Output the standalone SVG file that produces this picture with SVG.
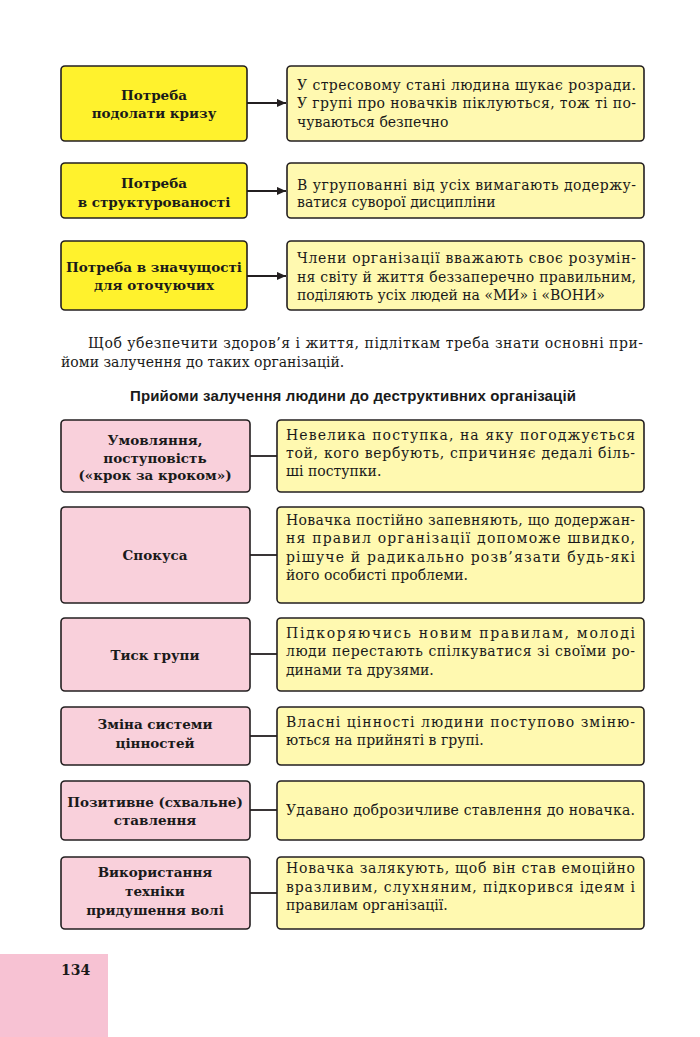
<svg xmlns="http://www.w3.org/2000/svg" width="700" height="1037" viewBox="0 0 700 1037">
<defs>
<style>
.bx{stroke:#231f20;stroke-width:1.6}
.y1{fill:#fff22d}
.y2{fill:#fff9b0}
.pk{fill:#f9d0db}
.lb{font-family:"DejaVu Serif","Liberation Serif",serif;font-weight:bold;font-size:13.5px;fill:#1a1a1a;text-anchor:middle}
.tx{font-family:"DejaVu Serif","Liberation Serif",serif;font-size:14px;fill:#1a1a1a}
.ttl{font-family:"Liberation Sans",Arial,sans-serif;font-weight:bold;font-size:15px;fill:#1a1a1a;text-anchor:middle}
.cn{stroke:#231f20;stroke-width:1.8;fill:none}
</style>
<marker id="ah" viewBox="0 0 10 10" refX="10" refY="5" markerWidth="9" markerHeight="9" markerUnits="userSpaceOnUse" orient="auto">
<path d="M0,0.5 L10,5 L0,9.5 Z" fill="#231f20"/>
</marker>
</defs>
<rect width="700" height="1037" fill="#ffffff"/>

<g id="connectors">
<line class="cn" x1="247" y1="103" x2="286" y2="103" marker-end="url(#ah)"/>
<line class="cn" x1="247" y1="191" x2="286" y2="191" marker-end="url(#ah)"/>
<line class="cn" x1="247" y1="276" x2="286" y2="276" marker-end="url(#ah)"/>
<line class="cn" x1="250" y1="456" x2="277" y2="456"/>
<line class="cn" x1="250" y1="555" x2="277" y2="555"/>
<line class="cn" x1="250" y1="654" x2="277" y2="654"/>
<line class="cn" x1="250" y1="736" x2="277" y2="736"/>
<line class="cn" x1="250" y1="810" x2="277" y2="810"/>
<line class="cn" x1="250" y1="893" x2="277" y2="893"/>
</g>

<g id="need1">
<rect class="bx y1" x="61" y="66" width="186" height="75" rx="4"/>
<text class="lb" x="154" y="100">Потреба</text>
<text class="lb" x="154" y="118">подолати кризу</text>
</g>
<g id="need1-desc">
<rect class="bx y2" x="287" y="66" width="357" height="75" rx="4"/>
<text class="tx" x="297" y="90" textLength="339" lengthAdjust="spacing">У стресовому стані людина шукає розради.</text>
<text class="tx" x="297" y="108" textLength="339" lengthAdjust="spacing">У групі про новачків піклуються, тож ті по-</text>
<text class="tx" x="297" y="127">чуваються безпечно</text>
</g>

<g id="need2">
<rect class="bx y1" x="61" y="163" width="186" height="55" rx="4"/>
<text class="lb" x="154" y="188">Потреба</text>
<text class="lb" x="154" y="207">в структурованості</text>
</g>
<g id="need2-desc">
<rect class="bx y2" x="287" y="163" width="357" height="55" rx="4"/>
<text class="tx" x="297" y="190" textLength="339" lengthAdjust="spacing">В угрупованні від усіх вимагають додержу-</text>
<text class="tx" x="297" y="207">ватися суворої дисципліни</text>
</g>

<g id="need3">
<rect class="bx y1" x="61" y="241" width="186" height="69" rx="4"/>
<text class="lb" x="154" y="272">Потреба в значущості</text>
<text class="lb" x="154" y="290">для оточуючих</text>
</g>
<g id="need3-desc">
<rect class="bx y2" x="287" y="241" width="357" height="69" rx="4"/>
<text class="tx" x="297" y="263" textLength="339" lengthAdjust="spacing">Члени організації вважають своє розумін-</text>
<text class="tx" x="297" y="282" textLength="339" lengthAdjust="spacing">ня світу й життя беззаперечно правильним,</text>
<text class="tx" x="297" y="300">поділяють усіх людей на «МИ» і «ВОНИ»</text>
</g>

<g id="paragraph">
<text class="tx" x="88" y="348" font-size="14.5" textLength="555" lengthAdjust="spacing">Щоб убезпечити здоров’я і життя, підліткам треба знати основні при-</text>
<text class="tx" x="61" y="367" font-size="14.5">йоми залучення до таких організацій.</text>
</g>

<g id="title">
<text class="ttl" x="353" y="401" textLength="446" lengthAdjust="spacing">Прийоми залучення людини до деструктивних організацій</text>
</g>

<g id="m1">
<rect class="bx pk" x="61" y="420" width="189" height="72" rx="4"/>
<text class="lb" x="155" y="445">Умовляння,</text>
<text class="lb" x="155" y="463">поступовість</text>
<text class="lb" x="155" y="480" font-weight="normal">(«крок за кроком»)</text>
</g>
<g id="m1-desc">
<rect class="bx y2" x="277" y="420" width="367" height="72" rx="4"/>
<text class="tx" x="286" y="440" textLength="349" lengthAdjust="spacing">Невелика поступка, на яку погоджується</text>
<text class="tx" x="286" y="458" textLength="349" lengthAdjust="spacing">той, кого вербують, спричиняє дедалі біль-</text>
<text class="tx" x="286" y="476">ші поступки.</text>
</g>

<g id="m2">
<rect class="bx pk" x="61" y="507" width="189" height="96" rx="4"/>
<text class="lb" x="155" y="560">Спокуса</text>
</g>
<g id="m2-desc">
<rect class="bx y2" x="277" y="507" width="367" height="96" rx="4"/>
<text class="tx" x="286" y="525" textLength="349" lengthAdjust="spacing">Новачка постійно запевняють, що додержан-</text>
<text class="tx" x="286" y="543" textLength="349" lengthAdjust="spacing">ня правил організації допоможе швидко,</text>
<text class="tx" x="286" y="562" textLength="349" lengthAdjust="spacing">рішуче й радикально розв’язати будь-які</text>
<text class="tx" x="286" y="580">його особисті проблеми.</text>
</g>

<g id="m3">
<rect class="bx pk" x="61" y="618" width="189" height="73" rx="4"/>
<text class="lb" x="155" y="660">Тиск групи</text>
</g>
<g id="m3-desc">
<rect class="bx y2" x="277" y="618" width="367" height="73" rx="4"/>
<text class="tx" x="286" y="638" textLength="349" lengthAdjust="spacing">Підкоряючись новим правилам, молоді</text>
<text class="tx" x="286" y="656" textLength="349" lengthAdjust="spacing">люди перестають спілкуватися зі своїми ро-</text>
<text class="tx" x="286" y="675">динами та друзями.</text>
</g>

<g id="m4">
<rect class="bx pk" x="61" y="707" width="189" height="58" rx="4"/>
<text class="lb" x="155" y="729">Зміна системи</text>
<text class="lb" x="155" y="748">цінностей</text>
</g>
<g id="m4-desc">
<rect class="bx y2" x="277" y="707" width="367" height="58" rx="4"/>
<text class="tx" x="286" y="727" textLength="349" lengthAdjust="spacing">Власні цінності людини поступово зміню-</text>
<text class="tx" x="286" y="745">ються на прийняті в групі.</text>
</g>

<g id="m5">
<rect class="bx pk" x="61" y="781" width="189" height="59" rx="4"/>
<text class="lb" x="155" y="807">Позитивне (схвальне)</text>
<text class="lb" x="155" y="825">ставлення</text>
</g>
<g id="m5-desc">
<rect class="bx y2" x="277" y="781" width="367" height="59" rx="4"/>
<text class="tx" x="286" y="815" textLength="349" lengthAdjust="spacing">Удавано доброзичливе ставлення до новачка.</text>
</g>

<g id="m6">
<rect class="bx pk" x="61" y="857" width="189" height="72" rx="4"/>
<text class="lb" x="155" y="877">Використання</text>
<text class="lb" x="155" y="896">техніки</text>
<text class="lb" x="155" y="915">придушення волі</text>
</g>
<g id="m6-desc">
<rect class="bx y2" x="277" y="857" width="367" height="72" rx="4"/>
<text class="tx" x="286" y="873" textLength="349" lengthAdjust="spacing">Новачка залякують, щоб він став емоційно</text>
<text class="tx" x="286" y="892" textLength="349" lengthAdjust="spacing">вразливим, слухняним, підкорився ідеям і</text>
<text class="tx" x="286" y="910">правилам організації.</text>
</g>

<g id="page-number">
<rect x="0" y="954" width="108" height="83" fill="#f7c2d3"/>
<text class="tx" x="61" y="975" font-size="14" font-weight="bold">134</text>
</g>
</svg>
